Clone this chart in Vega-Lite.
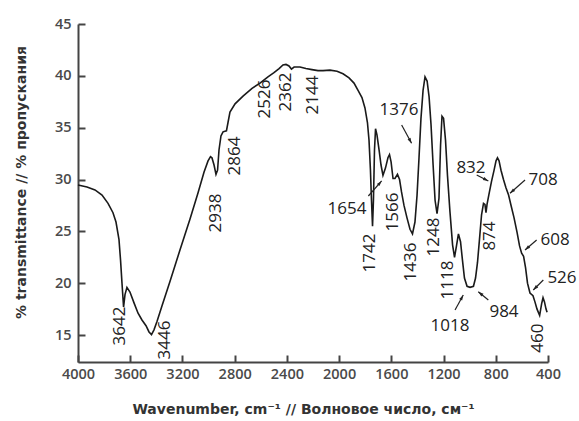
{
  "$schema": "https://vega.github.io/schema/vega-lite/v6.json",
  "width": 470,
  "height": 338,
  "autosize": {"type": "none"},
  "padding": {"left": 78, "top": 24, "right": 31, "bottom": 59},
  "background": "white",
  "config": {"view": {"stroke": null}, "font": "Open Sans"},
  "datasets": {
    "spectrum": [
      {"wn":4000,"t":29.47},{"wn":3931,"t":29.28},{"wn":3870,"t":29.0},{"wn":3816,"t":28.5},{"wn":3770,"t":27.7},{"wn":3732,"t":26.8},{"wn":3709,"t":25.9},{"wn":3686,"t":24.2},{"wn":3674,"t":22.2},{"wn":3663,"t":20.0},{"wn":3651,"t":17.7},{"wn":3640,"t":18.9},{"wn":3625,"t":19.6},{"wn":3602,"t":19.15},{"wn":3571,"t":18.1},{"wn":3540,"t":17.1},{"wn":3510,"t":16.45},{"wn":3479,"t":15.9},{"wn":3456,"t":15.3},{"wn":3437,"t":15.05},{"wn":3418,"t":15.5},{"wn":3395,"t":16.3},{"wn":3357,"t":17.8},{"wn":3295,"t":20.2},{"wn":3219,"t":23.2},{"wn":3142,"t":26.2},{"wn":3081,"t":28.7},{"wn":3035,"t":30.7},{"wn":3004,"t":31.8},{"wn":2985,"t":32.2},{"wn":2974,"t":32.1},{"wn":2958,"t":31.4},{"wn":2943,"t":30.5},{"wn":2931,"t":30.9},{"wn":2920,"t":32.85},{"wn":2905,"t":34.2},{"wn":2889,"t":34.6},{"wn":2863,"t":34.7},{"wn":2851,"t":35.5},{"wn":2836,"t":36.5},{"wn":2797,"t":37.3},{"wn":2736,"t":38.05},{"wn":2667,"t":38.8},{"wn":2606,"t":39.3},{"wn":2545,"t":39.9},{"wn":2499,"t":40.3},{"wn":2460,"t":40.7},{"wn":2430,"t":41.05},{"wn":2407,"t":41.1},{"wn":2384,"t":40.95},{"wn":2365,"t":40.65},{"wn":2345,"t":40.85},{"wn":2300,"t":40.85},{"wn":2254,"t":40.7},{"wn":2208,"t":40.6},{"wn":2162,"t":40.5},{"wn":2123,"t":40.5},{"wn":2070,"t":40.55},{"wn":2016,"t":40.45},{"wn":1970,"t":40.2},{"wn":1924,"t":39.8},{"wn":1886,"t":39.3},{"wn":1855,"t":38.6},{"wn":1825,"t":37.9},{"wn":1802,"t":36.9},{"wn":1783,"t":35.5},{"wn":1771,"t":33.8},{"wn":1760,"t":30.9},{"wn":1752,"t":28.0},{"wn":1744,"t":25.5},{"wn":1737,"t":28.0},{"wn":1729,"t":32.85},{"wn":1721,"t":34.9},{"wn":1710,"t":34.3},{"wn":1694,"t":32.85},{"wn":1679,"t":31.4},{"wn":1664,"t":30.4},{"wn":1645,"t":31.1},{"wn":1626,"t":32.1},{"wn":1614,"t":32.4},{"wn":1602,"t":31.7},{"wn":1587,"t":30.1},{"wn":1572,"t":30.1},{"wn":1553,"t":30.5},{"wn":1537,"t":30.0},{"wn":1522,"t":28.8},{"wn":1503,"t":27.5},{"wn":1480,"t":26.3},{"wn":1457,"t":25.2},{"wn":1438,"t":24.75},{"wn":1419,"t":25.9},{"wn":1403,"t":28.5},{"wn":1388,"t":32.1},{"wn":1373,"t":35.9},{"wn":1357,"t":38.6},{"wn":1342,"t":39.9},{"wn":1326,"t":39.5},{"wn":1311,"t":38.0},{"wn":1296,"t":35.3},{"wn":1280,"t":31.4},{"wn":1265,"t":28.0},{"wn":1250,"t":26.7},{"wn":1235,"t":28.2},{"wn":1223,"t":33.3},{"wn":1212,"t":36.1},{"wn":1200,"t":35.9},{"wn":1185,"t":33.8},{"wn":1170,"t":30.4},{"wn":1151,"t":26.9},{"wn":1131,"t":23.7},{"wn":1116,"t":22.5},{"wn":1101,"t":23.6},{"wn":1086,"t":24.75},{"wn":1070,"t":24.0},{"wn":1055,"t":22.2},{"wn":1040,"t":20.5},{"wn":1020,"t":19.7},{"wn":997,"t":19.6},{"wn":971,"t":19.7},{"wn":955,"t":20.5},{"wn":940,"t":22.0},{"wn":925,"t":24.2},{"wn":909,"t":26.6},{"wn":894,"t":27.7},{"wn":883,"t":27.6},{"wn":875,"t":26.8},{"wn":867,"t":27.6},{"wn":852,"t":28.6},{"wn":833,"t":29.8},{"wn":813,"t":30.9},{"wn":798,"t":31.8},{"wn":787,"t":32.1},{"wn":775,"t":31.8},{"wn":760,"t":30.9},{"wn":741,"t":30.0},{"wn":722,"t":29.2},{"wn":702,"t":28.5},{"wn":683,"t":27.5},{"wn":660,"t":26.3},{"wn":637,"t":24.9},{"wn":618,"t":23.6},{"wn":602,"t":22.9},{"wn":587,"t":22.6},{"wn":572,"t":21.5},{"wn":557,"t":20.0},{"wn":538,"t":19.05},{"wn":515,"t":18.8},{"wn":500,"t":18.2},{"wn":484,"t":17.5},{"wn":464,"t":16.9},{"wn":449,"t":18.0},{"wn":438,"t":18.6},{"wn":427,"t":18.2},{"wn":415,"t":17.5},{"wn":407,"t":17.2}
    ],
    "vlabels": [
      {"wn":3678,"t":15.87,"label":"3642"},
      {"wn":3334,"t":14.52,"label":"3446"},
      {"wn":2943,"t":26.77,"label":"2938"},
      {"wn":2797,"t":32.27,"label":"2864"},
      {"wn":2568,"t":37.77,"label":"2526"},
      {"wn":2407,"t":38.44,"label":"2362"},
      {"wn":2200,"t":38.15,"label":"2144"},
      {"wn":1766,"t":22.91,"label":"1742"},
      {"wn":1587,"t":26.87,"label":"1566"},
      {"wn":1449,"t":22.04,"label":"1436"},
      {"wn":1273,"t":24.46,"label":"1248"},
      {"wn":1166,"t":20.31,"label":"1118"},
      {"wn":844,"t":24.55,"label":"874"},
      {"wn":480,"t":14.71,"label":"460"}
    ],
    "hlabels": [
      {"wn":1541,"t":36.71,"label":"1376"},
      {"wn":1940,"t":27.16,"label":"1654"},
      {"wn":990,"t":31.11,"label":"832"},
      {"wn":438,"t":29.95,"label":"708"},
      {"wn":346,"t":24.17,"label":"608"},
      {"wn":293,"t":20.5,"label":"526"},
      {"wn":737,"t":17.22,"label":"984"},
      {"wn":1151,"t":15.87,"label":"1018"}
    ],
    "arrows": [
      {"x":1521,"y":35.26,"x2":1445,"y2":33.49},
      {"x":1776,"y":28.41,"x2":1674,"y2":29.86},
      {"x":946,"y":30.44,"x2":857,"y2":29.86},
      {"x":576,"y":29.95,"x2":691,"y2":28.67},
      {"x":487,"y":24.17,"x2":576,"y2":23.2},
      {"x":436,"y":20.31,"x2":513,"y2":19.34},
      {"x":857,"y":18.38,"x2":934,"y2":19.18},
      {"x":1112,"y":17.42,"x2":1049,"y2":18.86}
    ]
  },
  "layer": [
    {
      "data": {"name": "spectrum"},
      "mark": {"type": "line", "color": "#1a1a1a", "strokeWidth": 1.6, "clip": false},
      "encoding": {
        "x": {
          "field": "wn", "type": "quantitative",
          "scale": {"domain": [400, 4000], "reverse": true, "nice": false, "zero": false},
          "axis": {
            "title": "Wavenumber, cm⁻¹ // Волновое число, см⁻¹",
            "values": [4000,3800,3600,3400,3200,3000,2800,2600,2400,2200,2000,1800,1600,1400,1200,1000,800,600,400],
            "format": "d",
            "labelExpr": "datum.value % 400 === 0 ? datum.label : ''",
            "tickSize": {"condition": {"test": "datum.value % 400 === 0", "value": -7}, "value": -4},
            "grid": false,
            "domainColor": "#444", "domainWidth": 2,
            "tickColor": "#444", "tickWidth": 2,
            "labelFont": "Open Sans", "labelFontSize": 14.5, "labelColor": "#4a4a4a", "labelFontWeight": 600,
            "labelPadding": 12, "labelFlush": false, "labelOverlap": false,
            "titleFont": "DejaVu Sans", "titleFontSize": 14, "titleFontWeight": "bold", "titleColor": "#333",
            "titlePadding": 22, "titleX": 225
          }
        },
        "y": {
          "field": "t", "type": "quantitative",
          "scale": {"domain": [12.4, 45], "nice": false, "zero": false},
          "axis": {
            "title": "% transmittance // % пропускания",
            "values": [15,17.5,20,22.5,25,27.5,30,32.5,35,37.5,40,42.5,45],
            "labelExpr": "datum.value % 5 === 0 ? datum.label : ''",
            "tickSize": {"condition": {"test": "datum.value % 5 === 0", "value": -7}, "value": -4},
            "grid": false,
            "domainColor": "#444", "domainWidth": 2,
            "tickColor": "#444", "tickWidth": 2,
            "labelFont": "Open Sans", "labelFontSize": 14.5, "labelColor": "#4a4a4a", "labelFontWeight": 600,
            "labelPadding": 14, "labelFlush": false, "labelOverlap": false,
            "titleFont": "DejaVu Sans", "titleFontSize": 14, "titleFontWeight": "bold", "titleColor": "#333",
            "titlePadding": 26, "titleY": 158
          }
        }
      }
    },
    {
      "data": {"name": "vlabels"},
      "mark": {"type": "text", "angle": 270, "align": "center", "baseline": "middle", "fontSize": 17, "color": "#222", "font": "Open Sans"},
      "encoding": {
        "x": {"field": "wn", "type": "quantitative"},
        "y": {"field": "t", "type": "quantitative"},
        "text": {"field": "label"}
      }
    },
    {
      "data": {"name": "hlabels"},
      "mark": {"type": "text", "align": "center", "baseline": "middle", "fontSize": 17, "color": "#222", "font": "Open Sans"},
      "encoding": {
        "x": {"field": "wn", "type": "quantitative"},
        "y": {"field": "t", "type": "quantitative"},
        "text": {"field": "label"}
      }
    },
    {
      "data": {"name": "arrows"},
      "mark": {"type": "rule", "color": "#222", "strokeWidth": 1.2},
      "encoding": {
        "x": {"field": "x", "type": "quantitative"},
        "y": {"field": "y", "type": "quantitative"},
        "x2": {"field": "x2"},
        "y2": {"field": "y2"}
      }
    },
    {
      "data": {"name": "arrows"},
      "transform": [
        {"calculate": "atan2((datum.x - datum.x2) * 0.1306, (datum.y2 - datum.y) * 10.37) * 180 / PI", "as": "heading"}
      ],
      "mark": {"type": "point", "shape": "M0,0L0.5,1.6L-0.5,1.6Z", "filled": true, "color": "#222", "size": 45, "opacity": 1},
      "encoding": {
        "x": {"field": "x2", "type": "quantitative"},
        "y": {"field": "y2", "type": "quantitative"},
        "angle": {"field": "heading", "type": "quantitative", "scale": null}
      }
    }
  ]
}
